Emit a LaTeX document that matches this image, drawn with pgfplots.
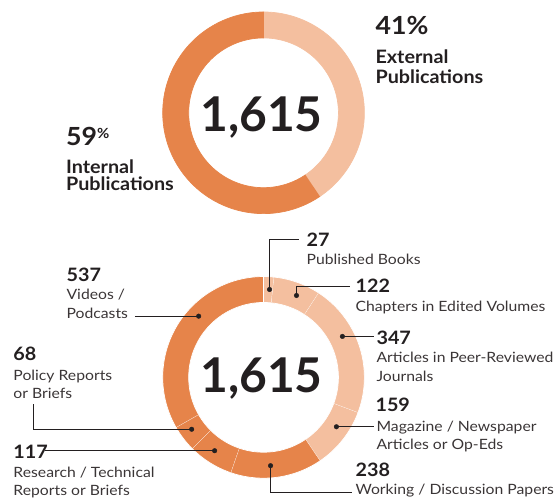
\documentclass[border=0pt]{standalone}
\usepackage{pgfplots}
\pgfplotsset{compat=1.18}
\usepackage{fontspec}
\setmainfont{Lato}
\newfontfamily\labfont[FakeStretch=1.11]{Lato}
\newfontfamily\headfont[FakeStretch=1.07]{Lato}
\definecolor{darkor}{HTML}{E6844A}
\definecolor{lightor}{HTML}{F4BF9F}
\definecolor{ink}{HTML}{231F20}
\definecolor{lab}{HTML}{3A3536}
\def\Ro{101}
\def\Ri{75}
% cx, cy, cumulative value before, value, total, colour, edge colour
\newcommand{\donutwedge}[7]{%
  \addplot[fill=#6, draw=#7, line width=0.7pt, domain=0:2, samples=241, variable=\t, mark=none]
  ({#1 + ifthenelse(\t<=1.0001,\Ro,\Ri)*cos(90-360*(#3+#4*ifthenelse(\t<=1.0001,\t,max(0,min(1,(2-\t)/0.985))))/#5)},
   {#2 - ifthenelse(\t<=1.0001,\Ro,\Ri)*sin(90-360*(#3+#4*ifthenelse(\t<=1.0001,\t,max(0,min(1,(2-\t)/0.985))))/#5)});
}
\newcommand{\num}[1]{{\headfont\fontsize{18.5}{20}\selectfont\bfseries\color{ink}#1}}
\newcommand{\lbl}[1]{{\labfont\fontsize{14.2}{16}\selectfont\color{lab}#1}}
\newcommand{\head}[1]{{\headfont\fontsize{18.5}{20}\selectfont\bfseries\color{ink}#1}}
\begin{document}
\begin{tikzpicture}
\begin{axis}[
  x=1pt, y=1pt, y dir=reverse,
  xmin=0, xmax=554, ymin=0, ymax=500,
  hide axis, clip=false, scale only axis,
]
\addplot[draw=none, mark=none] coordinates {(0,0) (554,500)};
% ---- top donut: external 655, internal 960 of 1615
\donutwedge{264}{113}{0}{655}{1615}{lightor}{lightor}
\donutwedge{264}{113}{655}{960}{1615}{darkor}{darkor}
% ---- bottom donut
\donutwedge{264}{378}{0}{27}{1615}{lightor}{white}
\donutwedge{264}{378}{27}{122}{1615}{lightor}{white}
\donutwedge{264}{378}{149}{347}{1615}{lightor}{white}
\donutwedge{264}{378}{496}{159}{1615}{lightor}{white}
\donutwedge{264}{378}{655}{238}{1615}{darkor}{white}
\donutwedge{264}{378}{893}{117}{1615}{darkor}{white}
\donutwedge{264}{378}{1010}{68}{1615}{darkor}{white}
\donutwedge{264}{378}{1078}{537}{1615}{darkor}{white}
% ---- leader lines
\addplot[ink, line width=0.9pt, mark=none] coordinates {(270,290) (270,240) (300,240)};
\addplot[ink, line width=0.9pt, mark=none] coordinates {(297,296) (297,287) (351,287)};
\addplot[ink, line width=0.9pt, mark=none] coordinates {(343,337) (375,337)};
\addplot[ink, line width=0.9pt, mark=none] coordinates {(337,427.5) (375,427.5)};
\addplot[ink, line width=0.9pt, mark=none] coordinates {(271,466.5) (271,493.5) (353,493.5)};
\addplot[ink, line width=0.9pt, mark=none] coordinates {(135,316.7) (199,316.7)};
\addplot[ink, line width=0.9pt, mark=none] coordinates {(33.5,405) (33.5,430) (192,430)};
\addplot[ink, line width=0.9pt, mark=none] coordinates {(45,451.5) (215,451.5)};
\addplot[only marks, mark=*, mark size=2.3pt, color=ink] coordinates {
  (270,290) (297,296) (343,337) (337,427.5) (271,466.5) (199,316.7) (192,430) (215,451.5)};
% ---- centre totals
\node[anchor=base, inner sep=0pt] at (262,132) {\fontsize{48}{50}\selectfont\bfseries\color{ink}1,615};
\node[anchor=base, inner sep=0pt] at (262,393) {\fontsize{48}{50}\selectfont\bfseries\color{ink}1,615};
% ---- top labels
\node[anchor=base west, inner sep=0pt] at (376,35) {\headfont\fontsize{25}{27}\selectfont\bfseries\color{ink}41\%};
\node[anchor=base west, inner sep=0pt] at (376,64) {\head{External}};
\node[anchor=base west, inner sep=0pt] at (376,83.5) {\head{Publications}};
\node[anchor=base west, inner sep=0pt] at (66,145.5) {\headfont\fontsize{25}{27}\selectfont\bfseries\color{ink}59\raisebox{6.5pt}{\fontsize{14}{14}\selectfont\%}};
\node[anchor=base west, inner sep=0pt] at (66,173.3) {\head{Internal}};
\node[anchor=base west, inner sep=0pt] at (66,191) {\head{Publications}};
% ---- bottom labels
\node[anchor=base west, inner sep=0pt] at (307,246.5) {\num{27}};
\node[anchor=base west, inner sep=0pt] at (307,265) {\lbl{Published Books}};
\node[anchor=base west, inner sep=0pt] at (356,293) {\num{122}};
\node[anchor=base west, inner sep=0pt] at (356,312) {\lbl{Chapters in Edited Volumes}};
\node[anchor=base west, inner sep=0pt] at (377,345) {\num{347}};
\node[anchor=base west, inner sep=0pt] at (377,363) {\lbl{Articles in Peer-Reviewed}};
\node[anchor=base west, inner sep=0pt] at (377,382.5) {\lbl{Journals}};
\node[anchor=base west, inner sep=0pt] at (376,412) {\num{159}};
\node[anchor=base west, inner sep=0pt] at (377,432) {\lbl{Magazine / Newspaper}};
\node[anchor=base west, inner sep=0pt] at (377,450.5) {\lbl{Articles or Op-Eds}};
\node[anchor=base west, inner sep=0pt] at (356,477) {\num{238}};
\node[anchor=base west, inner sep=0pt] at (356,495) {\lbl{Working / Discussion Papers}};
\node[anchor=base west, inner sep=0pt] at (66.5,281.5) {\num{537}};
\node[anchor=base west, inner sep=0pt] at (66.5,300.5) {\lbl{Videos /}};
\node[anchor=base west, inner sep=0pt] at (66.5,319) {\lbl{Podcasts}};
\node[anchor=base west, inner sep=0pt] at (13.3,361.5) {\num{68}};
\node[anchor=base west, inner sep=0pt] at (13.3,381.5) {\lbl{Policy Reports}};
\node[anchor=base west, inner sep=0pt] at (13.3,399.3) {\lbl{or Briefs}};
\node[anchor=base west, inner sep=0pt] at (13.3,459) {\num{117}};
\node[anchor=base west, inner sep=0pt] at (13.3,478) {\lbl{Research / Technical}};
\node[anchor=base west, inner sep=0pt] at (13.3,496.5) {\lbl{Reports or Briefs}};
\end{axis}
\end{tikzpicture}
\end{document}
